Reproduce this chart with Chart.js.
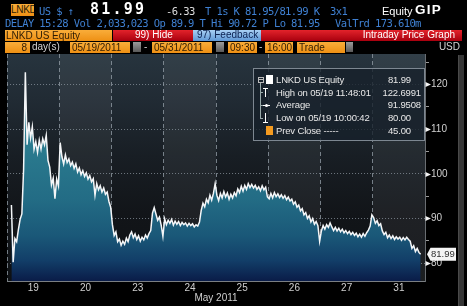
<!DOCTYPE html>
<html>
<head>
<meta charset="utf-8">
<script src="https://cdn.jsdelivr.net/npm/chart.js@4.4.0/dist/chart.umd.min.js"></script>
<style>
  html, body { margin: 0; padding: 0; background: #000; }
  body { width: 467px; height: 306px; position: relative; overflow: hidden; font-family: "Liberation Sans", Arial, sans-serif; }
  #grafico { position: absolute; left: 0; top: 0; }
  .t { position: absolute; white-space: nowrap; line-height: 12px; }
  .mono { font-family: "DejaVu Sans Mono", monospace; font-size: 10.5px; letter-spacing: -0.6px; color: #3f80d2; }
  .caja { position: absolute; height: 11px; line-height: 11px; font-size: 10px; white-space: nowrap; color: #2e1c04;
          background: linear-gradient(#f9ad3a, #ee9014); overflow: hidden; }
  .boton { position: absolute; height: 10px; width: 8px; top: 42px; background: linear-gradient(#9a9a9a, #5a5a5a); }
  .ley { position: absolute; font-size: 9.5px; letter-spacing: -0.15px; line-height: 12px; color: #e8e8e8; white-space: nowrap; }
  .der { text-align: right; }
</style>
</head>
<body>
<canvas id="grafico" width="467" height="306"></canvas>

<!-- Fila 1 -->
<div class="caja" style="left:11px;top:4px;width:23px;height:12px;line-height:12px;font-size:10px;letter-spacing:-0.3px">LNKD</div>
<div class="t mono" style="left:39px;top:5px">US $ ↑</div>
<div class="t" style="left:90px;top:2px;font-family:'DejaVu Sans Mono',monospace;font-weight:bold;font-size:15px;letter-spacing:2.2px;color:#fff;line-height:15px">81.99</div>
<div class="t mono" style="left:166px;top:5px;color:#dcdcdc">-6.33</div>
<div class="t mono" style="left:205px;top:5px">T 1s K 81.95/81.99 K</div>
<div class="t mono" style="left:330px;top:5px">3x1</div>
<div class="t" style="left:382px;top:5px;font-size:11px;color:#fff">Equity</div>
<div class="t" style="left:415px;top:3px;font-size:13.5px;font-weight:bold;letter-spacing:1.2px;color:#fff;line-height:14px">GIP</div>

<!-- Fila 2 -->
<div class="t mono" style="left:5px;top:17px">DELAY 15:28 Vol 2,033,023 Op 89.9 T Hi 90.72 P Lo 81.95</div>
<div class="t mono" style="left:335px;top:17px">ValTrd 173.610m</div>

<!-- Fila 3 -->
<div class="caja" style="left:5px;top:29.5px;width:106px;padding-left:1px">LNKD US Equity</div>
<div style="position:absolute;left:113px;top:29.5px;width:349px;height:11px;background:linear-gradient(#e3232b,#a8000e)"></div>
<div class="t" style="left:135px;top:29px;font-size:10px;color:#fff">99) Hide</div>
<div style="position:absolute;left:193px;top:29.5px;width:68px;height:11px;background:linear-gradient(#a9d0f4,#5f98d6)"></div>
<div class="t" style="left:197px;top:29px;font-size:10px;color:#0b2150">97) Feedback</div>
<div class="t der" style="left:355px;width:100px;top:29px;font-size:10px;color:#fff">Intraday Price Graph</div>

<!-- Fila 4 -->
<div class="caja der" style="left:5px;top:41.5px;width:22px;padding-right:3px">8</div>
<div class="t" style="left:32px;top:41px;font-size:10px;color:#d4d4d4">day(s)</div>
<div class="caja" style="left:70px;top:41.5px;width:58px;padding-left:2px">05/19/2011</div>
<div class="boton" style="left:133px"></div>
<div class="t" style="left:144px;top:41px;font-size:10px;color:#ccc">-</div>
<div class="caja" style="left:152px;top:41.5px;width:58px;padding-left:2px">05/31/2011</div>
<div class="boton" style="left:216px"></div>
<div class="caja" style="left:228px;top:41.5px;width:27px;padding-left:2px">09:30</div>
<div class="t" style="left:259px;top:41px;font-size:10px;color:#ccc">-</div>
<div class="caja" style="left:265px;top:41.5px;width:26px;padding-left:2px">16:00</div>
<div class="caja" style="left:297px;top:41.5px;width:46px;padding-left:2px">Trade</div>
<div class="boton" style="left:346px;width:7px"></div>
<div class="t der" style="left:420px;width:40px;top:41px;font-size:10px;color:#d4d4d4">USD</div>

<!-- Leyenda -->
<div style="position:absolute;left:253px;top:68px;width:170px;height:71px;border:1px solid #7d8791;background:rgba(22,32,42,0.8)"></div>
<div style="position:absolute;left:258px;top:77px;width:4px;height:4px;border:1px solid #bbb"></div>
<div style="position:absolute;left:259px;top:79px;width:4px;height:1px;background:#bbb"></div>
<div style="position:absolute;left:260px;top:83px;width:1px;height:35px;background:#9aa"></div>
<div style="position:absolute;left:260px;top:92px;width:3px;height:1px;background:#9aa"></div>
<div style="position:absolute;left:260px;top:105px;width:3px;height:1px;background:#9aa"></div>
<div style="position:absolute;left:260px;top:118px;width:3px;height:1px;background:#9aa"></div>
<div style="position:absolute;left:266px;top:75px;width:7px;height:9px;background:#fff"></div>
<div style="position:absolute;left:263px;top:88px;width:5px;height:1px;background:#fff"></div>
<div style="position:absolute;left:265px;top:88px;width:1px;height:9px;background:#fff"></div>
<div style="position:absolute;left:263px;top:105px;width:7px;height:1px;background:#fff"></div>
<div style="position:absolute;left:265px;top:103.5px;width:3px;height:3px;background:#fff;border-radius:2px"></div>
<div style="position:absolute;left:265px;top:113px;width:1px;height:9px;background:#fff"></div>
<div style="position:absolute;left:263px;top:122px;width:5px;height:1px;background:#fff"></div>
<div style="position:absolute;left:266px;top:126px;width:7px;height:9px;background:#f49b20"></div>
<div class="ley" style="left:276px;top:74px">LNKD US Equity</div>
<div class="ley der" style="left:370px;width:41px;top:74px">81.99</div>
<div class="ley" style="left:276px;top:86.5px">High on 05/19 11:48:01</div>
<div class="ley der" style="left:370px;width:51px;top:86.5px">122.6991</div>
<div class="ley" style="left:276px;top:99px">Average</div>
<div class="ley der" style="left:370px;width:51px;top:99px">91.9508</div>
<div class="ley" style="left:276px;top:112px">Low on 05/19 10:00:42</div>
<div class="ley der" style="left:370px;width:41px;top:112px">80.00</div>
<div class="ley" style="left:276px;top:124.5px">Prev Close -----</div>
<div class="ley der" style="left:370px;width:41px;top:124.5px">45.00</div>

<!-- Barra de desplazamiento -->
<div style="position:absolute;left:458px;top:55px;width:5px;height:251px;background:#363636;border-left:1px solid #4a4a4a"></div>

<script>
// Días de negociación (mayo 2011)
const dias = ['19', '20', '23', '24', '25', '26', '27', '31'];

// Precios intradía por día (30 muestras por día)
const precio19 = [null, null, 93.0, 80.2, 85.5, 84.8, 87.5, 89.8, 91.0, 101.0,
  122.7, 106.5, 111.5, 108.0, 110.5, 105.5, 107.2, 104.8, 107.5, 105.5,
  107.8, 106.5, 108.6, 103.0, 101.5, 97.5, 99.0, 94.4, 98.8, 97.3];
const precio20 = [107.0, 103.8, 102.2, 104.2, 102.5, 103.3, 101.8, 102.6, 101.2, 102.2,
  100.4, 101.3, 99.8, 100.7, 99.4, 100.2, 98.8, 99.6, 98.2, 98.9,
  95.2, 97.8, 96.4, 97.3, 95.9, 96.8, 95.4, 95.9, 93.8, 92.5];
const precio23 = [88.6, 86.2, 87.0, 84.8, 85.4, 84.0, 84.9, 84.2, 85.6, 84.8,
  86.3, 87.0, 85.7, 86.5, 85.3, 86.1, 84.9, 85.8, 85.2, 86.3,
  85.6, 86.6, 87.3, 91.2, 92.4, 91.0, 89.6, 90.3, 88.5, 86.0];
const precio24 = [89.9, 88.6, 89.6, 88.9, 89.8, 88.5, 89.4, 88.7, 89.3, 88.4,
  89.1, 88.6, 89.0, 88.3, 88.9, 88.4, 88.8, 88.1, 88.6, 88.3,
  89.2, 91.8, 93.4, 92.6, 94.3, 93.5, 95.2, 94.1, 95.6, 97.8];
const precio25 = [95.2, 94.0, 95.6, 94.6, 96.0, 94.8, 95.7, 94.3, 95.4, 94.6,
  95.8, 95.1, 96.6, 95.8, 97.2, 96.1, 97.4, 96.5, 97.8, 96.9,
  97.6, 96.8, 97.4, 96.5, 97.1, 96.2, 97.3, 96.4, 97.0, 94.8];
const precio26 = [94.4, 95.6, 94.6, 95.8, 94.9, 95.5, 94.7, 95.3, 94.5, 95.1,
  94.2, 94.8, 93.9, 94.3, 93.2, 93.7, 92.5, 93.0, 91.7, 92.2,
  90.8, 91.3, 90.0, 90.6, 89.2, 90.0, 88.7, 89.3, 88.4, 84.9];
const precio27 = [87.2, 88.4, 87.6, 88.6, 88.0, 89.0, 88.1, 87.3, 88.0, 87.2,
  87.8, 87.0, 87.6, 86.8, 87.3, 86.6, 87.1, 86.4, 86.9, 86.2,
  86.7, 85.9, 86.5, 85.8, 86.6, 86.0, 86.8, 87.4, 88.3, 90.8];
const precio31 = [90.2, 88.9, 89.5, 88.4, 88.8, 87.2, 86.4, 86.9, 85.7, 86.3,
  85.5, 86.1, 85.3, 85.9, 85.4, 85.8, 85.1, 85.7, 85.2, 85.8,
  85.3, 84.9, 83.3, 83.9, 82.6, 83.3, 82.4, 81.99];

// Eje Y
const ticksY = [80, 85, 90, 95, 100, 105, 110, 115, 120, 125];
const ultimoPrecio = 81.99;

const MUESTRAS_POR_DIA = 30;
const preciosPorDia = [precio19, precio20, precio23, precio24, precio25, precio26, precio27, precio31];

// Construir los puntos (x = día + fracción de la sesión)
const puntos = [];
preciosPorDia.forEach((serie, d) => {
  serie.forEach((p, i) => {
    puntos.push({ x: d + (i + 0.5) / MUESTRAS_POR_DIA, y: p });
  });
});

// Fondo del área del gráfico, con columnas alternadas por día
const fondoPlugin = {
  id: 'fondo',
  beforeDraw(chart) {
    const { ctx, chartArea: a, scales: { x } } = chart;
    ctx.save();
    const g = ctx.createLinearGradient(0, a.top, 0, a.bottom);
    g.addColorStop(0, '#27343e');
    g.addColorStop(0.2, '#212b34');
    g.addColorStop(0.45, '#181e24');
    g.addColorStop(0.7, '#121519');
    g.addColorStop(1, '#0e1114');
    ctx.fillStyle = g;
    ctx.fillRect(a.left, a.top, a.right - a.left, a.bottom - a.top);
    ctx.fillStyle = 'rgba(255,255,255,0.055)';
    dias.forEach((d, i) => {
      if (i % 2 === 1) {
        const x0 = x.getPixelForValue(i);
        const x1 = x.getPixelForValue(i + 1);
        ctx.fillRect(x0, a.top, x1 - x0, a.bottom - a.top);
      }
    });
    ctx.restore();
  }
};

// Marcas del eje Y y etiqueta del último precio
const marcasPlugin = {
  id: 'marcas',
  afterDraw(chart) {
    const { ctx, chartArea: a, scales: { y } } = chart;
    ctx.save();
    ctx.fillStyle = '#f2f2f2';
    ticksY.filter(v => v % 10 === 0).forEach(v => {
      const py = Math.round(y.getPixelForValue(v)) + 0.5;
      ctx.beginPath();
      ctx.moveTo(a.right + 0.5, py - 2.5);
      ctx.lineTo(a.right + 6, py);
      ctx.lineTo(a.right + 0.5, py + 2.5);
      ctx.closePath();
      ctx.fill();
    });
    const py = y.getPixelForValue(ultimoPrecio);
    const x0 = a.right + 5.5;
    ctx.beginPath();
    ctx.moveTo(x0 - 3.5, py);
    ctx.lineTo(x0, py - 6.5);
    ctx.lineTo(x0 + 25.5, py - 6.5);
    ctx.lineTo(x0 + 25.5, py + 6.5);
    ctx.lineTo(x0, py + 6.5);
    ctx.closePath();
    ctx.fillStyle = '#f4f4f4';
    ctx.fill();
    ctx.fillStyle = '#303030';
    ctx.font = '9.5px "Liberation Sans"';
    ctx.textBaseline = 'middle';
    ctx.fillText(ultimoPrecio.toFixed(2), x0 + 0.5, py + 0.5);
    ctx.restore();
  }
};

const ctx = document.getElementById('grafico').getContext('2d');
new Chart(ctx, {
  type: 'line',
  data: {
    datasets: [{
      label: 'LNKD US Equity',
      data: puntos,
      borderColor: '#f4f6f8',
      borderWidth: 1.5,
      pointRadius: 0,
      tension: 0,
      fill: 'start',
      backgroundColor: (context) => {
        const { chart } = context;
        const { ctx: c, chartArea } = chart;
        if (!chartArea) return null;
        const g = c.createLinearGradient(0, chartArea.top, 0, chartArea.bottom);
        g.addColorStop(0, '#3a8fa0');
        g.addColorStop(0.42, '#2a7a8e');
        g.addColorStop(0.64, '#236c85');
        g.addColorStop(0.8, '#1a5878');
        g.addColorStop(0.91, '#123e68');
        g.addColorStop(1, '#0a1c48');
        return g;
      }
    }]
  },
  options: {
    responsive: false,
    animation: false,
    devicePixelRatio: 1,
    layout: { padding: { left: 6.7, top: 54, right: 0, bottom: 0 } },
    plugins: {
      legend: { display: false },
      tooltip: { enabled: false }
    },
    scales: {
      x: {
        type: 'linear',
        min: 0,
        max: 8,
        z: 1,
        afterBuildTicks: (s) => { s.ticks = dias.concat(['']).map((d, i) => ({ value: i })); },
        afterFit: (s) => { s.height = 25; },
        ticks: {
          callback: (v) => dias[v] || '',
          labelOffset: 26.15,
          autoSkip: false,
          maxRotation: 0,
          padding: 1.5,
          color: '#cfcfcf',
          font: { family: 'Liberation Sans', size: 10 }
        },
        grid: { color: 'rgba(150,160,170,0.75)', drawTicks: false, lineWidth: 1 },
        border: { display: true, color: '#7a7e82', dash: [4, 3] },
        title: {
          display: true,
          text: 'May 2011',
          color: '#cfcfcf',
          font: { family: 'Liberation Sans', size: 10 },
          padding: { top: 0, bottom: 1.5 }
        }
      },
      y: {
        position: 'right',
        min: 76.0,
        max: 126.8,
        z: 1,
        afterBuildTicks: (s) => { s.ticks = ticksY.map(v => ({ value: v })); },
        afterFit: (s) => { s.width = 42; },
        ticks: {
          callback: (v) => (v % 10 === 0 ? v : ''),
          padding: 2,
          color: '#d0d0d0',
          font: { family: 'Liberation Sans', size: 10 }
        },
        grid: {
          color: (c) => (c.tick && c.tick.value % 10 === 0 ? 'rgba(150,160,170,0.7)' : 'transparent'),
          tickColor: (c) => (c.tick && c.tick.value % 10 === 0 ? 'transparent' : '#9a9a9a'),
          tickLength: 4,
          lineWidth: 1
        },
        border: { display: true, color: '#6a6e72', dash: [1, 2] }
      }
    }
  },
  plugins: [fondoPlugin, marcasPlugin]
});
</script>
</body>
</html>
